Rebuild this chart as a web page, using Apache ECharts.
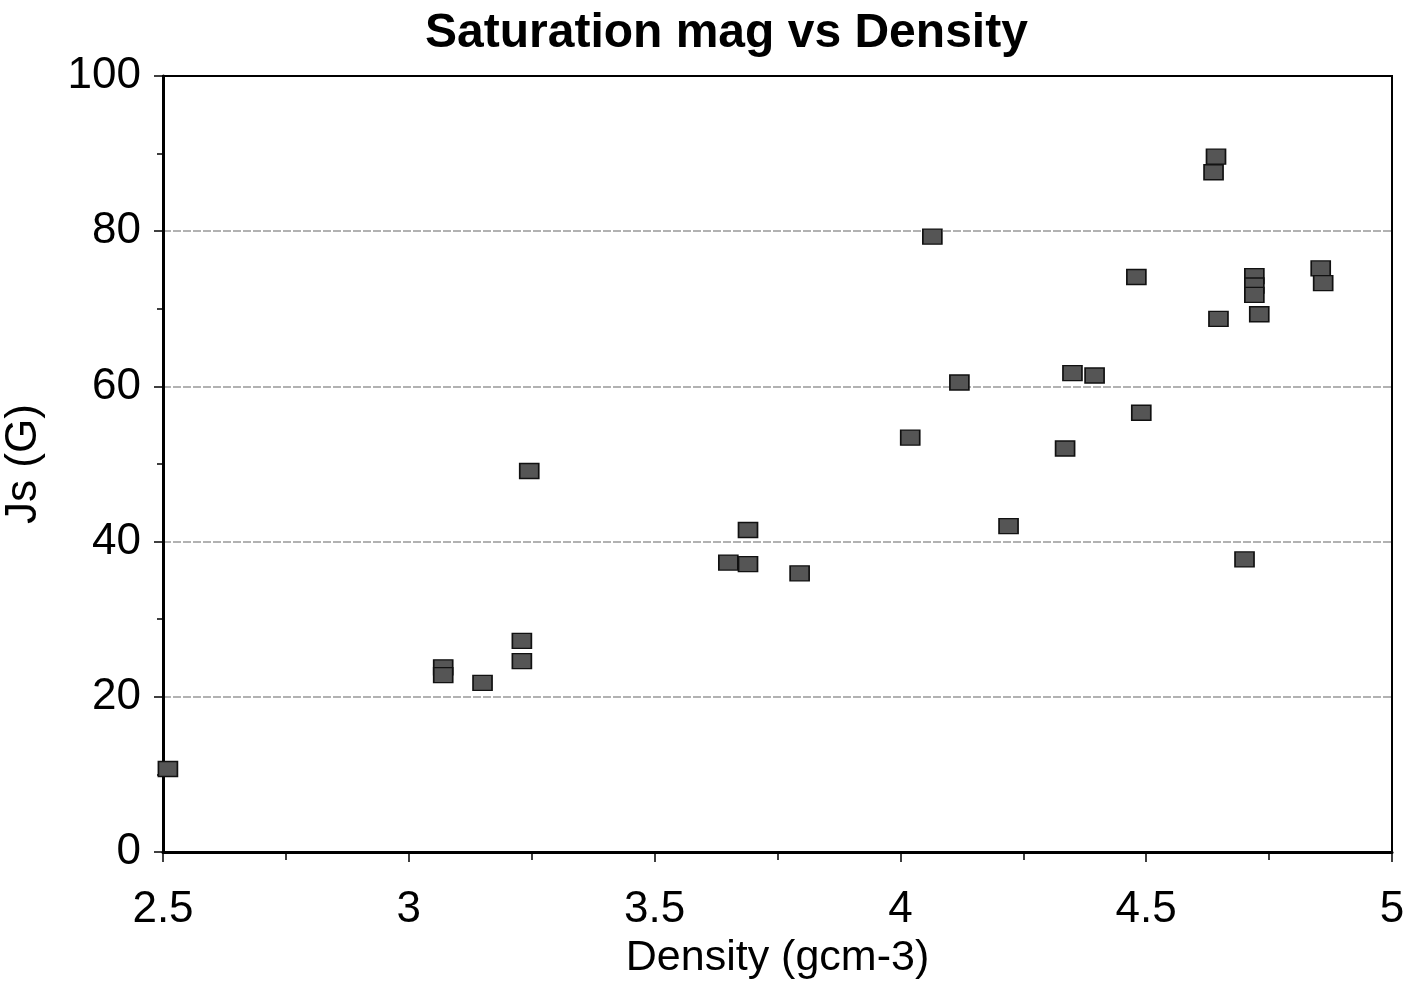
<!DOCTYPE html>
<html>
<head>
<meta charset="utf-8">
<script src="https://cdn.jsdelivr.net/npm/echarts@6/dist/echarts.min.js"></script>
<style>
  html, body { margin: 0; padding: 0; background: #fff; }
  #chart { width: 1416px; height: 983px; }
</style>
</head>
<body>
<div id="chart"></div>
<script>
// density (gcm-3) and saturation magnetisation Js (G)
var density = [
  2.51, 3.07, 3.07, 3.15, 3.23, 3.23, 3.245,
  3.65, 3.69, 3.69, 3.795,
  4.02, 4.065, 4.12, 4.22, 4.335, 4.35, 4.395,
  4.48, 4.49, 4.637, 4.642, 4.647, 4.70,
  4.72, 4.72, 4.72, 4.73, 4.855, 4.86
];
var js = [
  10.7, 23.8, 22.8, 21.8, 27.2, 24.6, 49.1,
  37.3, 41.5, 37.1, 35.9,
  53.4, 79.3, 60.5, 42.0, 52.0, 61.7, 61.4,
  74.1, 56.6, 87.6, 89.6, 68.7, 37.7,
  74.2, 73.0, 71.8, 69.3, 75.2, 73.3
];
var xTicks = [2.5, 3, 3.5, 4, 4.5, 5];
var yTicks = [0, 20, 40, 60, 80, 100];

var points = density.map(function (d, i) { return [d, js[i]]; });
var font = "'Liberation Sans', Arial, sans-serif";

var chart = echarts.init(document.getElementById("chart"));
chart.setOption({
  animation: false,
  title: {
    text: "Saturation mag vs Density",
    left: 420,
    top: 5,
    textStyle: { fontFamily: font, fontWeight: "bold", fontSize: 48, color: "#000" }
  },
  grid: {
    left: 163, right: 24, top: 76, bottom: 131,
    outerBoundsMode: "none",
    containLabel: false,
    show: true, borderColor: "#000", borderWidth: 2
  },
  xAxis: {
    type: "value",
    min: xTicks[0],
    max: xTicks[xTicks.length - 1],
    interval: 0.5,
    name: "Density (gcm-3)",
    nameLocation: "middle",
    nameGap: 84,
    nameTextStyle: { fontFamily: font, fontSize: 43, color: "#000" },
    axisLine: { lineStyle: { color: "#000", width: 3 } },
    axisTick: { inside: false, length: 10, lineStyle: { color: "#000", width: 1.5 } },
    minorTick: { show: true, splitNumber: 2, length: 8, lineStyle: { color: "#000", width: 1.5 } },
    axisLabel: {
      fontFamily: font, fontSize: 44, color: "#000", margin: 36,
      formatter: function (v) { return String(v); }
    },
    splitLine: { show: false }
  },
  yAxis: {
    type: "value",
    min: yTicks[0],
    max: yTicks[yTicks.length - 1],
    interval: 20,
    name: "Js (G)",
    nameLocation: "middle",
    nameGap: 117,
    nameTextStyle: { fontFamily: font, fontSize: 44, color: "#000" },
    axisLine: { lineStyle: { color: "#000", width: 3 } },
    axisTick: { length: 9, lineStyle: { color: "#000", width: 1.5 } },
    minorTick: { show: true, splitNumber: 2, length: 6, lineStyle: { color: "#000", width: 1.5 } },
    axisLabel: { fontFamily: font, fontSize: 44, color: "#000", margin: 22 },
    splitLine: {
      show: true, showMinLine: false, showMaxLine: false,
      lineStyle: { color: "#999", width: 1.5, type: [8, 2] }
    }
  },
  series: [{
    type: "scatter",
    data: points,
    symbol: "rect",
    symbolSize: [19, 15],
    itemStyle: { color: "#555", borderColor: "#111", borderWidth: 1.5, opacity: 1 }
  }]
});
</script>
</body>
</html>
